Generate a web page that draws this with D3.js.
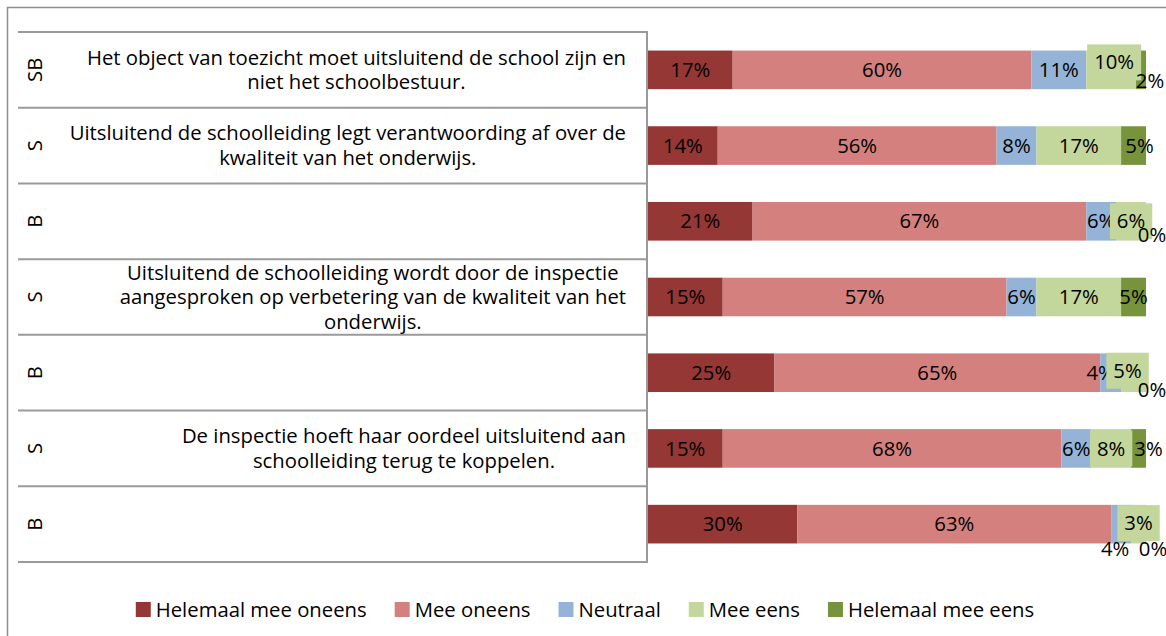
<!DOCTYPE html>
<html><head><meta charset="utf-8">
<script src="https://cdn.jsdelivr.net/npm/d3@7"></script>
<style>body{margin:0;background:#fff} svg{display:block} text{font-family:"Open Sans",sans-serif;fill:#000}</style>
</head><body><svg id="c" width="1166" height="636"></svg>
<script>
// ---- data ----
const groups = ["SB","S","B","S","B","S","B"];
const statements = [
  ["Het object van toezicht moet uitsluitend de school zijn en", "niet het schoolbestuur."],
  ["Uitsluitend de schoolleiding legt verantwoording af over de", "kwaliteit van het onderwijs."],
  [],
  ["Uitsluitend de schoolleiding wordt door de inspectie", "aangesproken op verbetering van de kwaliteit van het", "onderwijs."],
  [],
  ["De inspectie hoeft haar oordeel uitsluitend aan", "schoolleiding terug te koppelen."],
  []
];
const seriesNames = ["Helemaal mee oneens","Mee oneens","Neutraal","Mee eens","Helemaal mee eens"];
const helemaalMeeOneens = [17, 14, 21, 15, 25.4, 15, 30];
const meeOneens         = [60, 56, 67, 57, 65.4, 68, 63];
const neutraal          = [11,  8,  6,  6,  4.2,  6,  4];
const meeEens           = [10, 17,  6, 17,  5.0,  8,  3];
const helemaalMeeEens   = [ 2,  5,  0,  5,  0,    3,  0];

// ---- style / layout ----
const colors = ["#953735","#D4807F","#95B3D7","#C3D69B","#77933C"];
const labelNudges = [
  {r:0,s:3,dx:3,dy:-7.5},{r:0,s:4,dx:9,dy:11},
  {r:1,s:4,dx:6,dy:0},
  {r:2,s:4,dx:6,dy:14},
  {r:4,s:2,dx:-10,dy:0},{r:4,s:3,dx:-6,dy:-2},{r:4,s:4,dx:6,dy:17},
  {r:5,s:4,dx:10,dy:0},
  {r:6,s:2,dx:-6,dy:25},{r:6,s:3,dx:0,dy:-1},{r:6,s:4,dx:7,dy:25}
];
const boxedSeries = 3;
const FS = 20.3;

const svg = d3.select("#c");
const seriesArrays = [helemaalMeeOneens, meeOneens, neutraal, meeEens, helemaalMeeEens];
const table = groups.map((g,i)=>{
  const o = {idx:i, group:g};
  seriesNames.forEach((n,k)=>o[n]=seriesArrays[k][i]);
  return o;
});

const y = d3.scaleBand().domain(d3.range(groups.length)).range([32,562]).paddingInner(0.49).paddingOuter(0.245);
const x = d3.scaleLinear().domain([0,100]).range([648,1146]);
const step = y.step();
const rowMid = i => y(i) + y.bandwidth()/2;

// outer frame
svg.append("rect").attr("x",7.5).attr("y",7.5).attr("width",1300).attr("height",800)
  .attr("fill","none").attr("stroke","#8f8f8f").attr("stroke-width",1.5);

// table lines
const lineCol = "#9a9a9a";
d3.range(groups.length+1).forEach(i=>{
  const yy = 32 + i*step;
  svg.append("line").attr("x1",18).attr("x2",647).attr("y1",yy).attr("y2",yy)
    .attr("stroke",lineCol).attr("stroke-width",2);
});
svg.append("line").attr("x1",647).attr("x2",647).attr("y1",31).attr("y2",563)
  .attr("stroke",lineCol).attr("stroke-width",2);

// group letters
groups.forEach((g,i)=>{
  svg.append("text").attr("transform",`translate(35,${rowMid(i)}) rotate(-90)`)
    .attr("text-anchor","middle").attr("dy","0.35em").style("font-size",FS+"px").text(g);
});

// statements: block right-aligned, lines centered within block
const LH = 24.5;
statements.forEach((lines,i)=>{
  if(!lines.length) return;
  const g = svg.append("g");
  const ts = lines.map((l,j)=>g.append("text").attr("text-anchor","middle")
    .attr("y", rowMid(i) + (j-(lines.length-1)/2)*LH).attr("dy","0.35em")
    .style("font-size",FS+"px").text(l));
  const bw = d3.max(ts, t=>t.node().getComputedTextLength());
  const cx = 626 - bw/2;
  ts.forEach(t=>t.attr("x",cx));
});

// bars
const stack = d3.stack().keys(seriesNames)(table);
stack.forEach((layer,k)=>{
  svg.append("g").selectAll("rect").data(layer).join("rect")
    .attr("x",d=>x(d[0])).attr("width",d=>x(d[1])-x(d[0]))
    .attr("y",(d,i)=>y(i)).attr("height",y.bandwidth())
    .attr("fill",colors[k]);
});

// labels
stack.forEach((layer,k)=>{
  layer.forEach((d,i)=>{
    const nud = labelNudges.find(n=>n.r===i&&n.s===k) || {dx:0,dy:0};
    const cx = x((d[0]+d[1])/2) + nud.dx;
    const cy = rowMid(i) + nud.dy;
    const txt = Math.round(d[1]-d[0]) + "%";
    const g = svg.append("g");
    const t = g.append("text").attr("x",cx).attr("y",cy).attr("dy","0.35em")
      .attr("text-anchor","middle").style("font-size",FS+"px").text(txt);
    if(k===boxedSeries){
      const w = t.node().getComputedTextLength()+14;
      g.insert("rect","text").attr("x",cx-w/2).attr("y",cy-18).attr("width",w).attr("height",36)
        .attr("fill",colors[k]);
    }
  });
});

// legend
const GAP = 28;
const lg = svg.append("g");
let pos = 0;
seriesNames.forEach((n,k)=>{
  const it = lg.append("g");
  it.append("rect").attr("width",15).attr("height",15).attr("y",-15).attr("fill",colors[k]);
  const t = it.append("text").attr("x",20).attr("y",0).style("font-size",FS+"px").text(n);
  const w = 20 + t.node().getComputedTextLength();
  it.attr("transform",`translate(${pos},0)`);
  pos += w + GAP;
});
const total = pos - GAP;
lg.attr("transform",`translate(${585 - total/2},617)`);
</script></body></html>
